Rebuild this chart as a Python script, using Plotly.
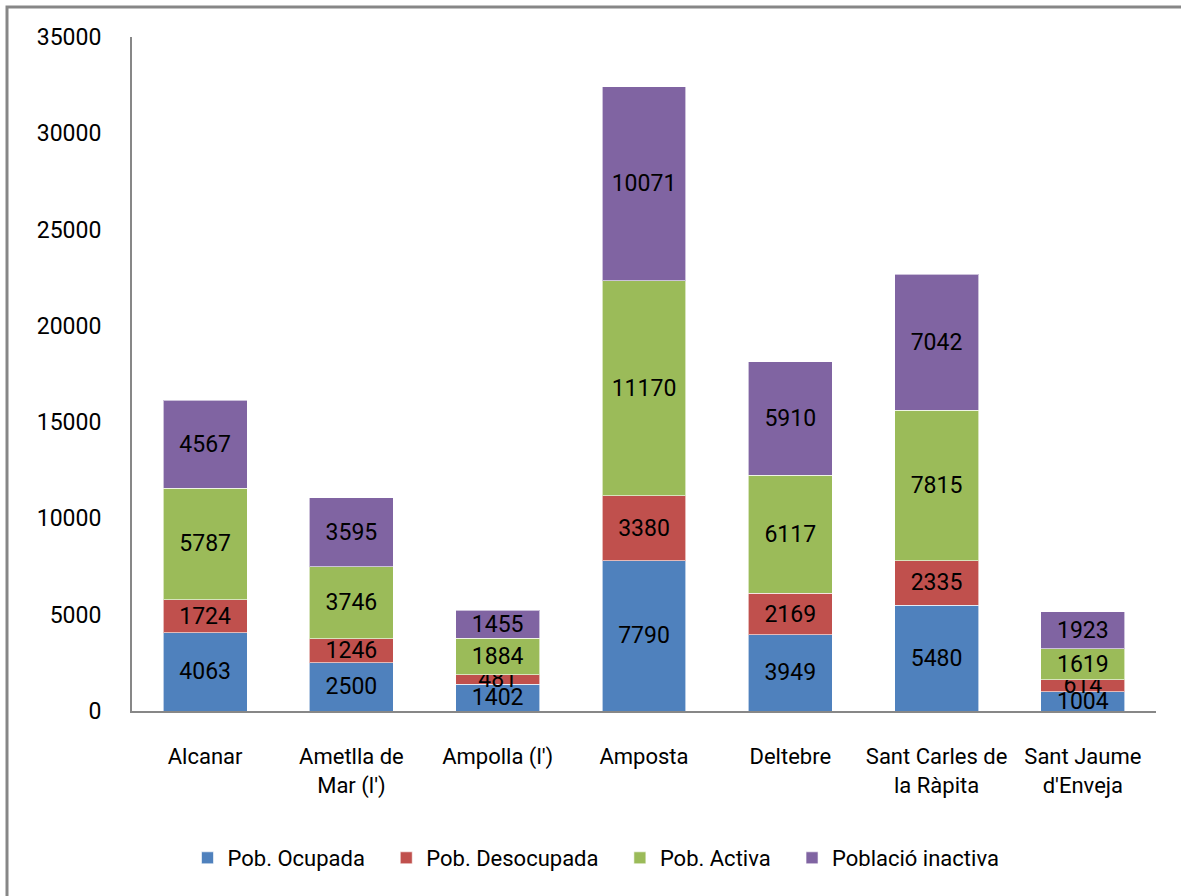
import plotly.graph_objects as go

# Municipalities (category axis) and population groups
municipis = [
    "Alcanar",
    "Ametlla de<br>Mar (l')",
    "Ampolla (l')",
    "Amposta",
    "Deltebre",
    "Sant Carles de<br>la Ràpita",
    "Sant Jaume<br>d'Enveja",
]
pob_ocupada = [4063, 2500, 1402, 7790, 3949, 5480, 1004]
pob_desocupada = [1724, 1246, 481, 3380, 2169, 2335, 614]
pob_activa = [5787, 3746, 1884, 11170, 6117, 7815, 1619]
poblacio_inactiva = [4567, 3595, 1455, 10071, 5910, 7042, 1923]

y_ticks = [0, 5000, 10000, 15000, 20000, 25000, 30000, 35000]

FONT = "Roboto, 'DejaVu Sans Condensed', sans-serif"
PAD = "\u00a0" * 3  # extra room between legend entries

series = [
    ("Pob. Ocupada", pob_ocupada, "#4F81BD"),
    ("Pob. Desocupada", pob_desocupada, "#C0504D"),
    ("Pob. Activa", pob_activa, "#9BBB59"),
    ("Població inactiva", poblacio_inactiva, "#8064A2"),
]

fig = go.Figure()
for name, vals, color in series:
    fig.add_trace(go.Bar(
        name=name + PAD,
        x=municipis,
        y=vals,
        text=[str(v) for v in vals],
        textposition="inside",
        insidetextanchor="middle",
        textangle=0,
        textfont=dict(family=FONT, size=23, color="black"),
        marker=dict(color=color, line=dict(color="rgba(255,255,255,0.6)", width=1)),
        cliponaxis=False,
    ))

# chart frame
L, R, T, B = 132, 25, 37, 185
W, H = 1181, 896
pw, ph = W - L - R, H - T - B
def px(x): return (x - L) / pw
def py(y): return (H - B - y) / ph

fig.update_layout(
    barmode="stack",
    bargap=0.426,
    width=W,
    height=H,
    margin=dict(l=L, r=R, t=T, b=B, autoexpand=False),
    paper_bgcolor="white",
    plot_bgcolor="white",
    font=dict(family=FONT, color="black"),
    uniformtext=dict(minsize=23, mode="show"),
    showlegend=True,
    legend=dict(
        orientation="h",
        x=px(604), xanchor="center",
        y=py(858), yanchor="middle",
        font=dict(family=FONT, size=22, color="black"),
        traceorder="normal",
        itemwidth=30,
    ),
    xaxis=dict(
        showline=True,
        linecolor="#878787",
        linewidth=2,
        showgrid=False,
        ticks="",
        tickangle=0,
        automargin=False,
        tickfont=dict(family=FONT, size=22, color="black"),
        ticklabelstandoff=25,
    ),
    yaxis=dict(
        range=[0, 35000],
        tickvals=y_ticks,
        ticktext=[str(v) for v in y_ticks],
        showline=True,
        linecolor="#878787",
        linewidth=2,
        showgrid=False,
        zeroline=False,
        ticks="",
        automargin=False,
        tickfont=dict(family=FONT, size=23, color="black"),
        ticklabelstandoff=24,
    ),
    shapes=[dict(
        type="rect", xref="paper", yref="paper",
        x0=px(7), x1=px(1195), y0=py(910), y1=py(7),
        line=dict(color="#878787", width=3),
        fillcolor="rgba(0,0,0,0)",
        layer="below",
    )],
)

fig.write_html("out.html")
